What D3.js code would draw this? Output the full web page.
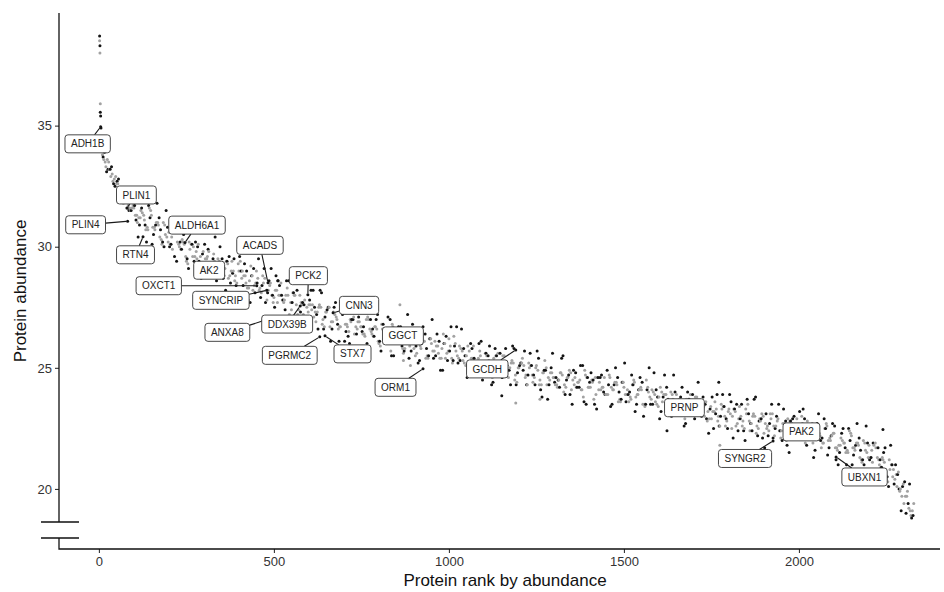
<!DOCTYPE html>
<html>
<head>
<meta charset="utf-8">
<script src="https://cdn.jsdelivr.net/npm/d3@7"></script>
<style>
  body { margin: 0; background: #fff; }
  text { font-family: "Liberation Sans", Arial, sans-serif; }
</style>
</head>
<body>
<svg id="chart" width="944" height="592"></svg>
<script>
// protein rank (x) for the sampled band, five abundance readings per rank
const ranks = [
  10, 20, 30, 40, 50, 60, 70, 80, 90, 100,
  110, 120, 130, 140, 150, 160, 170, 180, 190, 200,
  210, 220, 230, 240, 250, 260, 270, 280, 290, 300,
  310, 320, 330, 340, 350, 360, 370, 380, 390, 400,
  410, 420, 430, 440, 450, 460, 470, 480, 490, 500,
  510, 520, 530, 540, 550, 560, 570, 580, 590, 600,
  610, 620, 630, 640, 650, 660, 670, 680, 690, 700,
  710, 720, 730, 740, 750, 760, 770, 780, 790, 800,
  810, 820, 830, 840, 850, 860, 870, 880, 890, 900,
  910, 920, 930, 940, 950, 960, 970, 980, 990, 1000,
  1010, 1020, 1030, 1040, 1050, 1060, 1070, 1080, 1090, 1100,
  1110, 1120, 1130, 1140, 1150, 1160, 1170, 1180, 1190, 1200,
  1210, 1220, 1230, 1240, 1250, 1260, 1270, 1280, 1290, 1300,
  1310, 1320, 1330, 1340, 1350, 1360, 1370, 1380, 1390, 1400,
  1410, 1420, 1430, 1440, 1450, 1460, 1470, 1480, 1490, 1500,
  1510, 1520, 1530, 1540, 1550, 1560, 1570, 1580, 1590, 1600,
  1610, 1620, 1630, 1640, 1650, 1660, 1670, 1680, 1690, 1700,
  1710, 1720, 1730, 1740, 1750, 1760, 1770, 1780, 1790, 1800,
  1810, 1820, 1830, 1840, 1850, 1860, 1870, 1880, 1890, 1900,
  1910, 1920, 1930, 1940, 1950, 1960, 1970, 1980, 1990, 2000,
  2010, 2020, 2030, 2040, 2050, 2060, 2070, 2080, 2090, 2100,
  2110, 2120, 2130, 2140, 2150, 2160, 2170, 2180, 2190, 2200,
  2210, 2220, 2230, 2240, 2250, 2260, 2270, 2280, 2290, 2300, 2310, 2320
];

const greyA = [
  33.8, 33.3, 33.2, 32.7, 32.6, 32.2, 31.8, 31.9, 31.5, 31.6,
  31.0, 31.5, 31.1, 30.7, 31.3, 30.7, 30.9, 30.1, 30.5, 30.6,
  29.9, 30.6, 30.0, 30.2, 29.4, 29.9, 30.0, 29.5, 29.6, 29.2,
  29.6, 28.9, 29.4, 29.5, 29.0, 29.1, 28.7, 29.4, 28.8, 29.0,
  29.0, 28.5, 28.6, 28.2, 29.0, 28.3, 28.5, 27.8, 28.5, 27.9,
  27.7, 28.5, 27.8, 28.0, 27.4, 28.0, 27.4, 27.6, 27.1, 27.6,
  27.6, 26.9, 27.6, 27.0, 27.3, 26.7, 27.3, 27.0, 26.7, 27.3,
  26.7, 26.9, 26.4, 26.9, 26.7, 26.3, 27.0, 26.4, 26.7, 26.0,
  26.6, 26.4, 26.0, 26.7, 26.1, 26.4, 25.6, 26.2, 26.3, 25.8,
  26.4, 25.8, 26.1, 25.4, 26.0, 26.1, 25.6, 25.8, 25.4, 26.2,
  25.2, 25.7, 25.9, 25.3, 25.5, 25.1, 25.9, 25.2, 25.5, 24.9,
  25.0, 25.2, 24.9, 25.6, 25.0, 25.2, 24.6, 25.3, 24.7, 25.0,
  25.4, 24.7, 25.0, 24.4, 25.1, 24.5, 24.8, 24.3, 24.8, 24.6,
  24.2, 24.8, 24.3, 24.6, 24.1, 24.6, 24.4, 24.1, 24.7, 24.2,
  24.4, 23.9, 24.4, 24.2, 23.9, 24.6, 24.1, 24.3, 23.6, 24.2,
  24.1, 23.7, 24.4, 23.9, 24.1, 23.4, 24.0, 24.1, 23.6, 23.8,
  23.6, 23.9, 23.1, 23.7, 23.9, 23.3, 23.5, 23.1, 23.9, 23.3,
  23.4, 23.6, 23.0, 23.2, 22.9, 23.6, 23.0, 23.3, 22.6, 23.3,
  23.0, 22.6, 23.4, 22.8, 23.1, 22.4, 23.1, 22.6, 22.8, 22.3,
  22.6, 22.9, 22.2, 22.9, 22.4, 22.7, 22.1, 22.7, 22.5, 22.2,
  22.7, 22.2, 22.5, 21.9, 22.5, 22.2, 21.9, 22.6, 22.0, 22.3,
  21.6, 22.1, 21.9, 21.5, 22.2, 21.6, 21.8, 21.1, 21.6, 21.8,
  21.1, 21.7, 21.0, 21.2, 20.4, 20.8, 20.8, 20.1, 20.0, 19.4, 19.9, 18.9
];

const greyB = [
  33.5, 33.5, 33.0, 32.9, 32.4, 32.1, 32.1, 31.6, 31.7, 31.3,
  31.2, 31.3, 30.8, 31.5, 30.8, 31.0, 30.3, 30.9, 30.2, 30.4,
  30.7, 30.1, 30.3, 29.6, 30.2, 29.6, 29.8, 29.3, 29.8, 29.5,
  29.0, 29.7, 29.1, 29.3, 28.8, 29.3, 29.0, 28.6, 29.3, 28.7,
  28.8, 28.3, 28.8, 28.5, 28.2, 28.8, 28.2, 28.4, 27.7, 28.2,
  28.0, 27.7, 28.3, 27.7, 28.0, 27.2, 27.7, 27.8, 27.3, 27.4,
  27.3, 27.5, 26.8, 27.3, 27.5, 26.9, 27.1, 26.7, 27.5, 26.8,
  27.0, 27.1, 26.6, 26.7, 26.4, 27.1, 26.5, 26.7, 26.1, 26.8,
  26.4, 26.1, 26.8, 26.2, 26.4, 25.8, 26.4, 25.9, 26.1, 25.6,
  25.9, 26.1, 25.5, 26.2, 25.7, 25.9, 25.4, 26.0, 25.7, 25.4,
  26.0, 25.4, 25.7, 25.1, 25.7, 25.4, 25.1, 25.7, 25.2, 25.5,
  24.8, 25.4, 25.2, 24.8, 25.5, 24.9, 25.2, 24.5, 25.0, 25.2,
  24.6, 25.2, 24.7, 25.0, 24.3, 24.8, 25.0, 24.5, 24.6, 24.3,
  24.8, 24.0, 24.6, 24.8, 24.3, 24.4, 24.1, 24.9, 24.2, 24.5,
  24.6, 24.1, 24.2, 23.9, 24.7, 24.1, 24.4, 23.7, 24.4, 23.9,
  23.8, 24.5, 23.9, 24.2, 23.5, 24.2, 23.7, 23.9, 23.4, 24.0,
  23.9, 23.3, 23.9, 23.4, 23.7, 23.1, 23.7, 23.4, 23.1, 23.8,
  23.1, 23.4, 22.8, 23.4, 23.2, 22.8, 23.5, 23.0, 23.2, 22.5,
  23.2, 22.9, 22.6, 23.3, 22.8, 23.0, 22.3, 22.9, 23.0, 22.5,
  23.1, 22.6, 22.8, 22.1, 22.7, 22.9, 22.3, 22.5, 22.2, 23.0,
  21.9, 22.5, 22.7, 22.1, 22.3, 21.9, 22.7, 22.1, 22.3, 21.7,
  21.8, 21.9, 21.6, 22.3, 21.7, 21.9, 21.2, 21.9, 21.3, 21.6,
  21.9, 21.2, 21.3, 20.6, 21.2, 20.5, 20.6, 19.9, 20.2, 19.7, 19.1, 19.4
];

const greyC = [
  33.6, 33.6, 32.9, 32.8, 32.6, 32.0, 32.1, 31.7, 31.6, 31.3,
  31.2, 31.4, 30.7, 31.6, 30.8, 31.0, 30.4, 31.0, 30.4, 30.1,
  30.6, 30.2, 29.9, 30.1, 29.3, 30.1, 29.6, 30.1, 29.3, 29.5,
  29.8, 29.1, 29.3, 29.4, 28.7, 29.4, 28.8, 29.0, 28.5, 29.4,
  28.8, 28.3, 29.2, 28.4, 28.7, 28.1, 28.7, 28.2, 28.0, 28.2,
  28.0, 27.8, 28.0, 27.2, 28.1, 27.6, 28.0, 27.2, 27.5, 27.6,
  27.1, 27.3, 27.5, 26.7, 27.5, 26.9, 27.2, 26.6, 27.6, 26.8,
  26.5, 27.4, 26.7, 26.9, 26.4, 27.0, 26.6, 26.3, 26.6, 25.9,
  26.2, 26.5, 25.7, 26.6, 26.1, 26.6, 25.8, 26.1, 26.2, 25.5,
  26.0, 26.1, 25.4, 26.2, 25.7, 25.9, 25.4, 26.4, 25.6, 25.9,
  26.3, 25.5, 25.8, 25.2, 25.9, 25.4, 25.2, 25.4, 24.7, 25.6,
  25.3, 24.6, 25.5, 25.0, 25.5, 24.7, 25.0, 25.2, 24.4, 25.2,
  25.1, 24.3, 25.1, 24.6, 24.9, 24.3, 25.3, 24.6, 24.8, 24.3,
  24.5, 24.7, 24.2, 24.9, 24.5, 24.2, 24.5, 23.8, 24.6, 24.2,
  23.7, 24.6, 24.1, 24.6, 23.9, 24.2, 24.4, 23.6, 24.4, 23.9,
  23.6, 24.3, 23.8, 24.1, 23.5, 24.5, 23.8, 24.0, 23.5, 24.2,
  23.9, 23.4, 24.0, 23.6, 23.4, 23.6, 22.9, 23.7, 23.3, 23.8,
  23.6, 23.2, 23.6, 22.9, 23.2, 23.3, 22.6, 23.4, 22.8, 23.1,
  23.3, 22.7, 23.0, 22.5, 23.5, 22.7, 23.0, 22.5, 23.1, 22.7,
  22.4, 23.1, 22.6, 22.4, 22.7, 22.0, 22.8, 22.4, 22.9, 22.2,
  22.3, 22.8, 22.1, 22.3, 22.5, 21.7, 22.5, 22.0, 22.2, 21.7,
  21.8, 22.0, 21.5, 22.4, 21.7, 21.9, 21.3, 22.0, 21.5, 21.3,
  21.8, 21.3, 20.9, 21.1, 20.3, 21.0, 20.4, 20.7, 19.7, 19.7, 19.2, 19.1
];

const blackV = [
  33.9, 33.2, 33.3, 32.5, 32.8, 32.4, 32.0, 31.5, 31.9, 31.1,
  30.9, 31.9, 30.2, 31.2, 30.5, 31.8, 30.7, 30.0, 30.8, 30.1,
  29.6, 30.6, 29.9, 30.7, 29.1, 30.1, 30.2, 29.4, 29.7, 28.8,
  29.1, 29.5, 28.6, 30.0, 29.1, 29.4, 28.5, 29.5, 28.0, 29.0,
  29.3, 27.8, 28.8, 28.1, 29.5, 28.4, 27.7, 28.6, 28.0, 28.8,
  28.4, 27.8, 28.6, 27.0, 28.1, 28.2, 27.3, 27.6, 26.8, 28.2,
  27.5, 26.6, 28.1, 27.1, 27.5, 26.6, 27.7, 26.1, 27.2, 26.5,
  26.0, 27.0, 26.4, 27.7, 26.7, 26.0, 27.0, 26.3, 27.2, 25.7,
  26.2, 27.1, 25.5, 26.6, 26.7, 25.9, 26.2, 25.4, 26.8, 25.9,
  25.3, 26.7, 25.8, 26.2, 25.4, 26.4, 24.9, 26.0, 25.3, 26.7,
  25.9, 25.2, 26.6, 25.5, 24.9, 25.8, 25.2, 26.0, 24.5, 25.6,
  25.9, 24.4, 25.5, 25.6, 24.8, 25.1, 24.3, 25.8, 24.8, 25.2,
  25.7, 24.7, 25.1, 24.3, 25.4, 23.8, 24.9, 24.3, 25.6, 24.6,
  24.2, 25.5, 24.5, 23.9, 24.9, 24.2, 25.1, 23.6, 24.6, 24.8,
  23.5, 24.6, 24.7, 23.9, 24.3, 23.5, 25.0, 24.0, 24.4, 23.6,
  24.0, 24.3, 23.5, 24.6, 23.0, 24.1, 23.5, 24.8, 23.8, 23.2,
  24.7, 23.7, 23.0, 24.0, 23.4, 24.2, 22.7, 23.7, 23.9, 23.1,
  23.6, 23.8, 22.9, 23.3, 22.5, 23.9, 23.0, 23.4, 22.5, 23.6,
  23.3, 22.4, 23.5, 22.0, 23.1, 22.4, 23.8, 22.8, 22.1, 23.1,
  22.7, 22.1, 23.0, 22.4, 23.3, 21.8, 22.8, 23.0, 22.2, 22.6,
  22.9, 22.1, 22.5, 21.6, 23.1, 22.1, 22.5, 21.7, 22.7, 21.2,
  21.5, 22.5, 21.0, 22.0, 21.4, 22.7, 21.6, 21.0, 21.9, 21.3,
  20.8, 21.7, 20.9, 21.7, 20.1, 21.0, 21.0, 20.0, 20.1, 19.0, 20.2, 18.9
];

const blackW = [
  33.7, 33.1, 33.2, 32.6, 32.7, 32.3, 32.2, 31.6, 31.5, 31.7,
  30.4, 31.6, 30.9, 31.7, 30.1, 30.9, 31.2, 30.2, 31.5, 30.0,
  30.9, 29.4, 30.2, 30.5, 29.5, 30.9, 29.4, 30.0, 28.7, 30.1,
  29.9, 29.0, 30.4, 28.9, 29.5, 28.2, 29.6, 28.9, 28.4, 29.6,
  28.4, 29.0, 27.7, 29.1, 28.5, 27.9, 29.1, 28.1, 29.1, 27.5,
  28.6, 28.0, 27.4, 28.6, 27.7, 28.6, 27.0, 27.7, 26.5, 27.8,
  28.2, 27.2, 28.2, 26.6, 27.4, 26.1, 27.5, 26.8, 27.7, 26.1,
  26.3, 27.0, 25.8, 27.1, 26.5, 27.3, 25.8, 26.6, 27.0, 26.1,
  26.8, 26.2, 27.0, 25.5, 26.3, 26.7, 25.7, 27.2, 25.7, 26.3,
  25.2, 26.0, 26.4, 25.5, 27.0, 25.5, 26.1, 24.9, 26.3, 25.7,
  25.3, 26.7, 25.3, 25.8, 24.6, 26.0, 25.4, 24.8, 26.1, 25.2,
  25.5, 24.3, 25.8, 25.1, 24.6, 25.8, 24.9, 25.9, 24.3, 25.1,
  24.9, 24.3, 25.6, 24.7, 25.7, 24.1, 24.9, 23.7, 25.0, 24.4,
  24.5, 25.4, 23.9, 24.7, 23.5, 24.8, 24.2, 25.1, 23.5, 24.4,
  24.5, 23.3, 24.6, 24.0, 24.9, 23.4, 24.3, 24.6, 23.7, 25.2,
  23.9, 24.7, 23.2, 24.1, 24.4, 23.5, 25.0, 23.5, 24.1, 22.9,
  23.8, 24.2, 23.2, 24.7, 23.3, 23.8, 22.6, 24.0, 23.4, 22.9,
  24.4, 23.0, 23.5, 22.3, 23.8, 23.1, 22.6, 23.9, 22.9, 23.9,
  22.1, 23.5, 22.9, 22.4, 23.7, 22.7, 23.7, 22.2, 22.9, 21.7,
  22.2, 23.5, 22.5, 23.5, 22.0, 22.8, 21.5, 22.9, 22.3, 23.2,
  23.3, 21.8, 22.6, 21.3, 22.7, 22.0, 22.9, 21.4, 22.2, 22.6,
  21.0, 22.3, 21.7, 22.5, 21.0, 21.8, 22.1, 21.2, 22.6, 21.2,
  21.9, 20.5, 21.2, 21.5, 20.5, 21.8, 20.2, 20.6, 19.1, 20.3, 19.4, 18.8
];

// single readings away from the band (top of the ranking and stray points)
const extraRanks  = [2, 2, 3, 3, 4, 4, 5, 6, 860, 870, 890, 511, 1151, 1191, 1260, 1623, 1771, 1774, 2240];
const extraValues = [38.7, 38.5, 38.3, 38.0, 35.9, 35.55, 35.4, 34.9, 27.6, 25.3, 25.1, 28.6, 23.85, 23.55, 23.7, 22.4, 24.4, 21.8, 22.45];
const extraGroups = ['black', 'grey', 'black', 'grey', 'grey', 'black', 'black', 'black', 'grey',
                     'grey', 'grey', 'black', 'black', 'grey', 'grey', 'black', 'black', 'grey', 'black'];

// labelled proteins
const labelNames  = ['ADH1B', 'PLIN1', 'PLIN4', 'ALDH6A1', 'RTN4', 'ACADS', 'AK2', 'PCK2', 'OXCT1', 'SYNCRIP', 'CNN3',
                     'DDX39B', 'ANXA8', 'PGRMC2', 'STX7', 'GGCT', 'ORM1', 'GCDH', 'PRNP', 'PAK2', 'SYNGR2', 'UBXN1'];
const labelRanks  = [5, 80, 82, 246, 126, 483, 355, 597, 451, 480, 669, 575, 469, 631, 646, 900, 926, 1191, 1700, 2000, 1926, 2106];
const labelValues = [34.95, 31.6, 31.05, 30.17, 30.41, 28.51, 28.7, 28.02, 28.39, 28.2, 27.27,
                     27.55, 26.94, 26.28, 26.32, 26.05, 24.96, 25.74, 23.6, 22.5, 21.98, 21.32];

const xTicks = [0, 500, 1000, 1500, 2000];
const yTicks = [20, 25, 30, 35];

// where each label box sits relative to its point (px), like the repelled layout
const labelNudge = [[-13, 17], [9.5, -13], [-42, 3.5], [12, -17.5], [-7.5, 18], [-8, -37.5], [-14, -8], [0.5, -19],
                    [-98, 0], [-46, 10], [26, -7.5], [-13, 18], [-35.7, 11.5], [-30, 18.5], [27.5, 18], [-11, -6.5],
                    [-27.5, 18.5], [-28.5, 19], [-9.5, 6], [2.5, 3.5], [-28, 17.5], [28.5, 20]];

const svg = d3.select('#chart');
const x = d3.scaleLinear().domain([-114, 2403]).range([59, 940]);
const y = d3.scaleLinear().domain([17.52, 39.65]).range([549, 13]);
const colour = { grey: '#a2a2a2', black: '#141414' };

// build the point list (readings at a rank are spread over the 10-rank step)
let points = [];
ranks.forEach((r, i) => {
    points.push({ r: r,     v: greyA[i],  g: 'grey' });
    points.push({ r: r + 2, v: blackW[i], g: 'black' });
    points.push({ r: r + 4, v: greyC[i],  g: 'grey' });
    points.push({ r: r + 6, v: blackV[i], g: 'black' });
    points.push({ r: r + 8, v: greyB[i],  g: 'grey' });
});
extraRanks.forEach((r, i) => points.push({ r: r, v: extraValues[i], g: extraGroups[i] }));
labelRanks.forEach((r, i) => points.push({ r: r, v: labelValues[i], g: 'black' }));

svg.append('g')
    .selectAll('circle')
    .data(points)
    .join('circle')
    .attr('cx', d => x(d.r))
    .attr('cy', d => y(d.v))
    .attr('r', 1.5)
    .attr('fill', d => colour[d.g]);

// axes
const yAxis = svg.append('g')
    .attr('transform', 'translate(59,0)')
    .call(d3.axisLeft(y).tickValues(yTicks).tickSize(4).tickPadding(3));
const xAxis = svg.append('g')
    .attr('transform', 'translate(0,549)')
    .call(d3.axisBottom(x).tickValues(xTicks).tickFormat(d3.format('d')).tickSize(4).tickPadding(4));
[yAxis, xAxis].forEach(a => {
    a.select('.domain').remove();
    a.selectAll('line').attr('stroke', '#333').attr('stroke-width', 1.1);
    a.selectAll('text').attr('fill', '#333').style('font-size', '13px').style('font-family', '"Liberation Sans", Arial, sans-serif');
});

// axis lines with the break on y
svg.append('path')
    .attr('d', 'M59,13V522M59,538V549H940M41,522H79M41,538H79')
    .attr('fill', 'none')
    .attr('stroke', '#111')
    .attr('stroke-width', 1.3);

svg.append('text')
    .attr('x', 505).attr('y', 586)
    .attr('text-anchor', 'middle')
    .style('font-size', '17px')
    .attr('fill', '#111')
    .text('Protein rank by abundance');

svg.append('text')
    .attr('transform', 'translate(26,291) rotate(-90)')
    .attr('text-anchor', 'middle')
    .style('font-size', '17px')
    .attr('fill', '#111')
    .text('Protein abundance');

// labels: leaders, boxes, text
const gLead = svg.append('g'), gBox = svg.append('g'), gText = svg.append('g');
labelNames.forEach((name, i) => {
    const px = x(labelRanks[i]), py = y(labelValues[i]);
    const cx = px + labelNudge[i][0], cy = py + labelNudge[i][1];
    const t = gText.append('text')
        .attr('x', cx).attr('y', cy).attr('dy', '0.36em')
        .attr('text-anchor', 'middle')
        .style('font-size', '10px')
        .attr('fill', '#222')
        .text(name);
    const w = t.node().getComputedTextLength() + 12, h = 18;
    gBox.append('rect')
        .attr('x', cx - w / 2).attr('y', cy - h / 2)
        .attr('width', w).attr('height', h)
        .attr('rx', 3)
        .attr('fill', '#fff')
        .attr('stroke', '#333')
        .attr('stroke-width', 0.9);

    const dx = px - cx, dy = py - cy;
    if (Math.abs(dx) <= w / 2 + 1 && Math.abs(dy) <= h / 2 + 1) return; // point sits under its box
    const s = Math.min(dx ? (w / 2) / Math.abs(dx) : Infinity, dy ? (h / 2) / Math.abs(dy) : Infinity);
    const len = Math.hypot(dx, dy);
    const x0 = cx + dx * s, y0 = cy + dy * s;
    const x1 = px - dx / len * 1.5, y1 = py - dy / len * 1.5;
    if (Math.hypot(x1 - x0, y1 - y0) < 3) return;
    gLead.append('line')
        .attr('x1', x0).attr('y1', y0).attr('x2', x1).attr('y2', y1)
        .attr('stroke', '#1a1a1a')
        .attr('stroke-width', 1.1);
});
</script>
</body>
</html>
